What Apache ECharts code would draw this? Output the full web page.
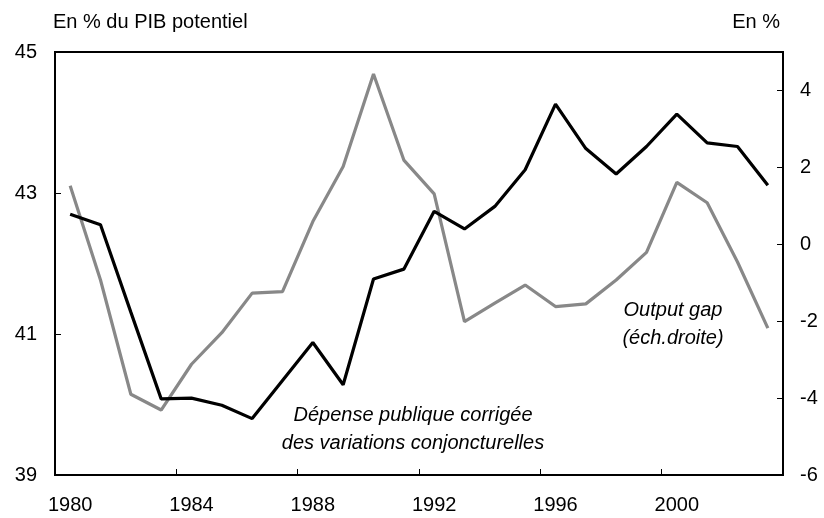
<!DOCTYPE html>
<html>
<head>
<meta charset="utf-8">
<script src="https://cdn.jsdelivr.net/npm/echarts@6/dist/echarts.min.js"></script>
<style>
  html, body { margin: 0; padding: 0; background: #fff; }
  #chart { width: 824px; height: 518px; }
</style>
</head>
<body>
<div id="chart"></div>
<script>
// années 1980-2003
var years = ['1980','1981','1982','1983','1984','1985','1986','1987','1988','1989','1990','1991',
             '1992','1993','1994','1995','1996','1997','1998','1999','2000','2001','2002','2003'];
// dépense publique corrigée (en % du PIB potentiel, échelle gauche)
var depense = [42.70, 42.55, 41.31, 40.08, 40.09, 39.99, 39.80, 40.34, 40.88, 40.28, 41.78, 41.92,
               42.74, 42.49, 42.81, 43.33, 44.26, 43.63, 43.27, 43.66, 44.12, 43.71, 43.66, 43.11];
// output gap (en %, échelle droite)
var outputGap = [1.52, -0.93, -3.90, -4.31, -3.12, -2.30, -1.27, -1.23, 0.59, 2.02, 4.43, 2.19,
                 1.31, -2.01, -1.53, -1.06, -1.62, -1.55, -0.93, -0.21, 1.61, 1.08, -0.46, -2.18];

var FONT = 'Liberation Sans, Arial, sans-serif';
var FS = 20;

var chart = echarts.init(document.getElementById('chart'));

var axisLine = { show: true, onZero: false, lineStyle: { color: '#000', width: 2 } };
var axisTick = { show: true, inside: true, length: 6, lineStyle: { color: '#000', width: 1 } };

chart.setOption({
  animation: false,
  grid: { left: 55, right: 41, top: 52, bottom: 43, show: true, borderColor: '#000', borderWidth: 2 },
  xAxis: {
    type: 'category',
    data: years,
    boundaryGap: true,
    axisLine: axisLine,
    axisTick: { show: true, inside: true, length: 6, interval: 3, lineStyle: { color: '#000', width: 1 } },
    axisLabel: { color: '#000', fontSize: FS, fontFamily: FONT, interval: 3, margin: 20 },
    splitLine: { show: false }
  },
  yAxis: [
    {
      type: 'value', position: 'left', min: 39, max: 45, interval: 2,
      axisLine: axisLine, axisTick: axisTick, splitLine: { show: false },
      axisLabel: { color: '#000', fontSize: FS, fontFamily: FONT, margin: 18 }
    },
    {
      type: 'value', position: 'right', min: -6, max: 5, interval: 2,
      axisLine: axisLine, axisTick: axisTick, splitLine: { show: false },
      axisLabel: { color: '#000', fontSize: FS, fontFamily: FONT, margin: 17, showMaxLabel: false }
    }
  ],
  series: [
    {
      name: 'Dépense publique', type: 'line', yAxisIndex: 0, data: depense,
      symbol: 'none', lineStyle: { color: '#000', width: 3.2 }, z: 3
    },
    {
      name: 'Output gap', type: 'line', yAxisIndex: 1, data: outputGap,
      symbol: 'none', lineStyle: { color: '#888', width: 3.2 }, z: 2
    }
  ],
  graphic: [
    { type: 'text', left: 53, top: 12, style: { text: 'En % du PIB potentiel', fill: '#000', font: FS + 'px ' + FONT } },
    { type: 'text', right: 44, top: 12, style: { text: 'En %', fill: '#000', font: FS + 'px ' + FONT } },
    { type: 'text', x: 413, y: 429, style: {
        text: 'Dépense publique corrigée\ndes variations conjoncturelles',
        fill: '#000', font: 'italic ' + FS + 'px ' + FONT, align: 'center', verticalAlign: 'middle', lineHeight: 28 } },
    { type: 'text', x: 673, y: 324, style: {
        text: 'Output gap\n(éch.droite)',
        fill: '#000', font: 'italic ' + FS + 'px ' + FONT, align: 'center', verticalAlign: 'middle', lineHeight: 28 } }
  ]
});
</script>
</body>
</html>
